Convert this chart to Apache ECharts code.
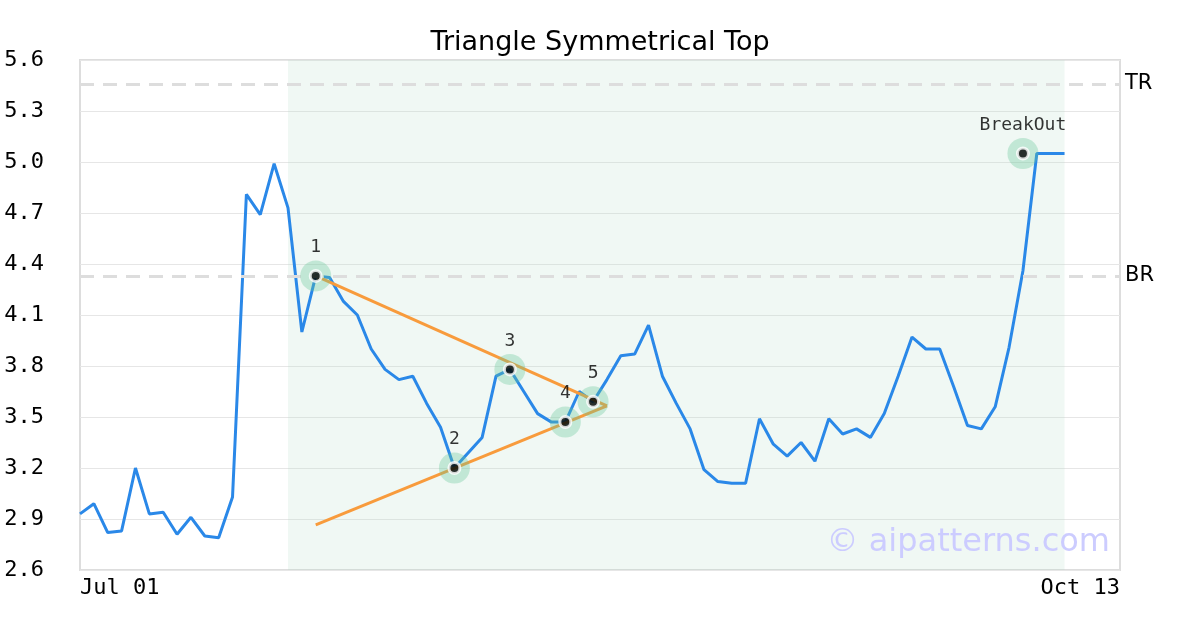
<!DOCTYPE html>
<html>
<head>
<meta charset="utf-8">
<script src="https://cdn.jsdelivr.net/npm/echarts@6/dist/echarts.min.js"></script>
<style>
html,body{margin:0;padding:0;background:#fff;}
#chart{width:1200px;height:630px;}
</style>
</head>
<body>
<div id="chart"></div>
<script>
// ---- data ----
const prices = [
  2.93, 2.99, 2.82, 2.83, 3.20, 2.93, 2.94, 2.81, 2.91, 2.80,
  2.79, 3.03, 4.81, 4.69, 4.99, 4.73, 4.00, 4.33, 4.32, 4.18,
  4.10, 3.90, 3.78, 3.72, 3.74, 3.58, 3.44, 3.20, 3.29, 3.38,
  3.74, 3.78, 3.65, 3.52, 3.47, 3.47, 3.65, 3.59, 3.72, 3.86,
  3.87, 4.04, 3.74, 3.58, 3.43, 3.19, 3.12, 3.11, 3.11, 3.49,
  3.34, 3.27, 3.35, 3.24, 3.49, 3.40, 3.43, 3.38, 3.52, 3.74,
  3.97, 3.90, 3.90, 3.68, 3.45, 3.43, 3.56, 3.91, 4.36, 5.05,
  5.05, 5.05
];
const xTickLabels = ['Jul 01', 'Oct 13'];
const xTickPositions = [0, 75];
const patternIdx = [17, 27, 31, 35, 37];
const patternLabels = ['1', '2', '3', '4', '5'];
const breakoutIdx = 68;
const breakoutValue = 5.05;
const breakoutLabel = 'BreakOut';
const upperTrend = [[17, 4.33], [38, 3.565]];
const lowerTrend = [[17, 2.865], [38, 3.565]];
const levelTR = 5.46;
const levelBR = 4.33;
const zoneStart = 15;
const zoneEnd = 71;
const yTicks = { min: 2.6, max: 5.6, step: 0.3 };

// ---- chart ----
const chart = echarts.init(document.getElementById('chart'));
const mono = 'DejaVu Sans Mono';
const sans = 'DejaVu Sans';

const lineData = prices.map((v, i) => [i, v]);
const patternData = patternIdx.map((ix, k) => ({ value: [ix, prices[ix]], label: { formatter: patternLabels[k] } }));
patternData.push({ value: [breakoutIdx, breakoutValue], label: { formatter: breakoutLabel } });

const option = {
  animation: false,
  backgroundColor: '#ffffff',
  title: {
    text: 'Triangle Symmetrical Top',
    left: 'center',
    top: 24,
    textStyle: { fontFamily: sans, fontSize: 27, fontWeight: 'normal', color: '#000' }
  },
  grid: {
    left: 80, right: 80, top: 60, bottom: 60,
    show: true, borderColor: '#dddddd', borderWidth: 2, backgroundColor: 'transparent'
  },
  xAxis: {
    type: 'value',
    min: xTickPositions[0],
    max: xTickPositions[1],
    interval: xTickPositions[1] - xTickPositions[0],
    axisLine: { show: false },
    axisTick: { show: false },
    splitLine: { show: false },
    axisLabel: {
      margin: 7,
      fontFamily: mono, fontSize: 22, color: '#000',
      alignMinLabel: 'left', alignMaxLabel: 'right',
      formatter: v => xTickLabels[xTickPositions.indexOf(v)] || ''
    }
  },
  yAxis: {
    type: 'value',
    min: yTicks.min, max: yTicks.max, interval: yTicks.step,
    axisLine: { show: false },
    axisTick: { show: false },
    splitLine: { show: true, lineStyle: { color: '#e6e6e6', width: 1 } },
    axisLabel: {
      margin: 36, fontFamily: mono, fontSize: 22, color: '#000',
      formatter: v => v.toFixed(1)
    }
  },
  graphic: [{
    type: 'text',
    right: 90,
    top: 527,
    z: 100,
    style: { text: '© aipatterns.com', font: '32px "DejaVu Sans"', fill: '#ccccff' }
  }],
  series: [
    {
      type: 'line',
      data: [],
      z: 1,
      markArea: {
        silent: true,
        itemStyle: { color: 'rgba(180,220,200,0.2)' },
        data: [[{ xAxis: zoneStart }, { xAxis: zoneEnd }]]
      },
      markLine: {
        silent: true,
        symbol: 'none',
        lineStyle: { color: '#dddddd', type: [14, 9], width: 3 },
        label: { position: 'end', distance: 5, fontFamily: sans, fontSize: 21, color: '#000', formatter: p => p.name },
        data: [
          { name: 'TR', yAxis: levelTR },
          { name: 'BR', yAxis: levelBR }
        ]
      }
    },
    {
      type: 'line',
      data: lineData,
      showSymbol: false,
      z: 3,
      lineStyle: { color: '#2a88e8', width: 3 },
      itemStyle: { color: '#2a88e8' }
    },
    {
      type: 'line', data: upperTrend, showSymbol: false, z: 4,
      lineStyle: { color: '#f89b3c', width: 3 }
    },
    {
      type: 'line', data: lowerTrend, showSymbol: false, z: 4,
      lineStyle: { color: '#f89b3c', width: 3 }
    },
    {
      type: 'scatter',
      data: patternData,
      symbolSize: 31,
      z: 5,
      itemStyle: { color: 'rgba(100,200,150,0.42)' },
      label: {
        show: true, position: 'top', distance: 4,
        fontFamily: mono, fontSize: 18, color: '#000'
      }
    },
    {
      type: 'scatter',
      data: patternData.map(d => d.value),
      symbolSize: 11,
      z: 6,
      itemStyle: { color: '#000', borderColor: '#fff', borderWidth: 3 }
    }
  ]
};
chart.setOption(option);
</script>
</body>
</html>
